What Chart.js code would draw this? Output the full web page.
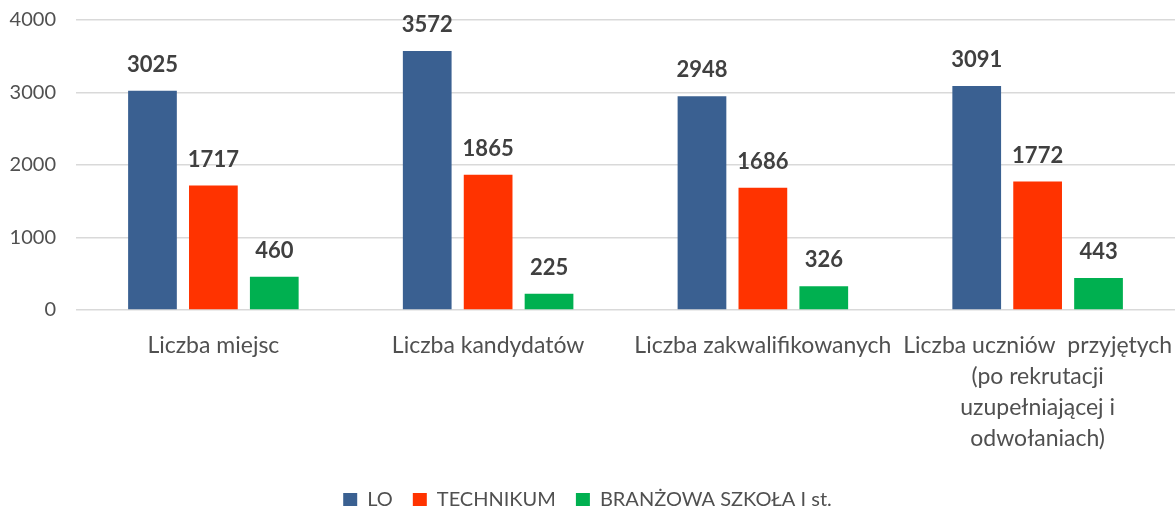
<!DOCTYPE html>
<html>
<head>
<meta charset="utf-8">
<script src="https://cdn.jsdelivr.net/npm/chart.js@4.4.1/dist/chart.umd.min.js"></script>
<style>
  html, body { margin: 0; padding: 0; background: #fff; overflow: hidden; }
  #wrap { width: 1175px; height: 520px; }
</style>
</head>
<body>
<div id="wrap"><canvas id="c"></canvas></div>
<script>
const categories = [
  'Liczba miejsc',
  'Liczba kandydatów',
  'Liczba zakwalifikowanych',
  ['Liczba uczniów  przyjętych', '(po rekrutacji', 'uzupełniającej i', 'odwołaniach)']
];
const seriesNames = ['LO', 'TECHNIKUM', 'BRANŻOWA SZKOŁA I st.'];
const loValues = [3025, 3572, 2948, 3091];
const technikumValues = [1717, 1865, 1686, 1772];
const branzowaValues = [460, 225, 326, 443];
const yTicks = [0, 1000, 2000, 3000, 4000];

const colors = ['#3A6091', '#FF3300', '#00B050'];
const fontFamily = 'Lato, "Liberation Sans", sans-serif';

// simple value labels above the bars
const valueLabels = {
  id: 'valueLabels',
  afterDatasetsDraw(chart) {
    const ctx = chart.ctx;
    ctx.save();
    ctx.font = 'bold 22px ' + fontFamily;
    ctx.fillStyle = '#404040';
    ctx.textAlign = 'center';
    ctx.textBaseline = 'middle';
    chart.data.datasets.forEach((ds, i) => {
      chart.getDatasetMeta(i).data.forEach((bar, j) => {
        ctx.fillText(ds.data[j], bar.x, bar.y - 26);
      });
    });
    ctx.restore();
  }
};

new Chart(document.getElementById('c'), {
  type: 'bar',
  data: {
    labels: categories,
    datasets: [
      { label: seriesNames[0], data: loValues, backgroundColor: colors[0] },
      { label: seriesNames[1], data: technikumValues, backgroundColor: colors[1] },
      { label: seriesNames[2], data: branzowaValues, backgroundColor: colors[2] }
    ]
  },
  options: {
    animation: false,
    responsive: true,
    maintainAspectRatio: false,
    layout: { padding: { top: 20, right: 0, left: 0, bottom: 0 } },
    datasets: { bar: { categoryPercentage: 0.665, barPercentage: 0.8 } },
    scales: {
      x: {
        grid: { drawOnChartArea: false, drawTicks: true, tickLength: 20, tickColor: 'rgba(0,0,0,0)', color: 'rgba(0,0,0,0)' },
        border: { display: false },
        ticks: { color: '#505050', font: { family: fontFamily, size: 23, lineHeight: 1.35 }, padding: 0, maxRotation: 0, autoSkip: false },
        afterFit: (s) => { s.height = 160; }
      },
      y: {
        min: 0, max: 4000,
        afterBuildTicks: (s) => { s.ticks = yTicks.map(v => ({ value: v })); },
        grid: { color: '#D9D9D9', lineWidth: 1.5, drawTicks: true, tickLength: 20, tickColor: 'rgba(0,0,0,0)' },
        border: { display: false },
        ticks: { color: '#505050', font: { family: fontFamily, size: 20 }, padding: 0, callback: (v) => String(v) },
        afterFit: (s) => { s.width = 76; }
      }
    },
    plugins: {
      legend: {
        position: 'bottom',
        labels: { color: '#505050', font: { family: fontFamily, size: 20 }, boxWidth: 14, boxHeight: 14, padding: 20 }
      },
      tooltip: { enabled: false }
    }
  },
  plugins: [valueLabels]
});
</script>
</body>
</html>
